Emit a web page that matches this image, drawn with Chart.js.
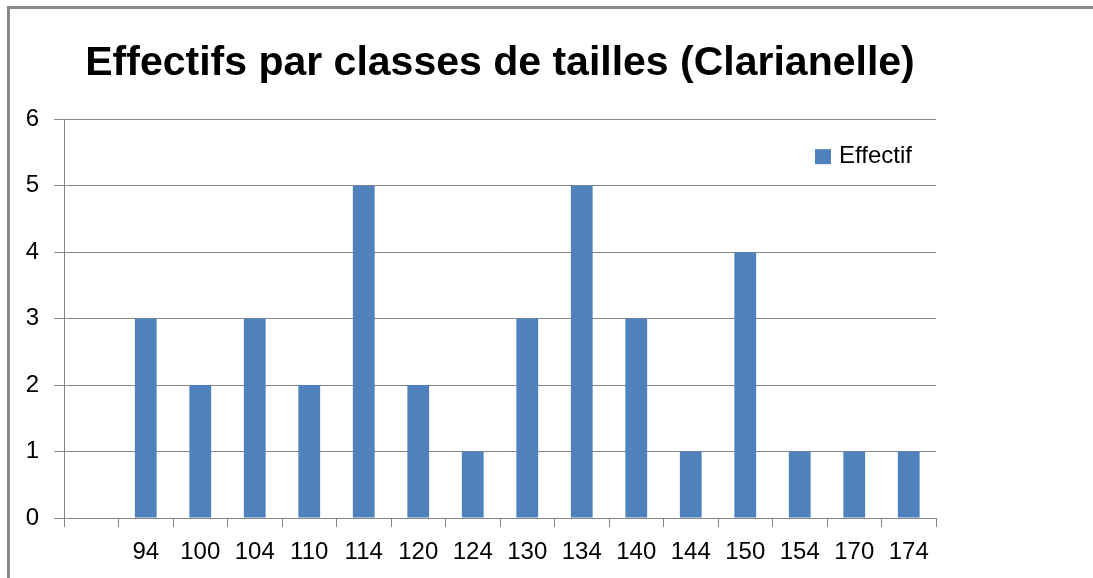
<!DOCTYPE html>
<html>
<head>
<meta charset="utf-8">
<script src="https://cdn.jsdelivr.net/npm/chart.js@4/dist/chart.umd.min.js"></script>
<style>
  html, body { margin: 0; padding: 0; background: #ffffff; }
  #wrap { width: 1093px; height: 578px; }
</style>
</head>
<body>
<div id="wrap"><canvas id="c" width="1093" height="578"></canvas></div>
<script>
const titleText = 'Effectifs par classes de tailles (Clarianelle)';
const categories = ['', '94', '100', '104', '110', '114', '120', '124', '130', '134', '140', '144', '150', '154', '170', '174'];
const effectif = [null, 3, 2, 3, 2, 5, 2, 1, 3, 5, 3, 1, 4, 1, 1, 1];
const seriesName = 'Effectif';
const yTicks = { min: 0, max: 6, step: 1 };

const BAR = '#4F81BD';
const GRID = '#868686';
const FONT = "'Liberation Sans', Arial, sans-serif";

const framePlugin = {
  id: 'frame',
  beforeDraw(chart) {
    const ctx = chart.ctx;
    ctx.save();
    ctx.fillStyle = '#ffffff';
    ctx.fillRect(0, 0, chart.width, chart.height);
    ctx.fillStyle = '#898989';
    ctx.fillRect(7, 6, chart.width - 7, 3);
    ctx.fillRect(7, 6, 3, chart.height - 6);
    ctx.restore();
  }
};

const innerLegend = {
  id: 'innerLegend',
  afterDraw(chart) {
    const ctx = chart.ctx;
    const ds = chart.data.datasets[0];
    const area = chart.chartArea;
    const x = area.right - 121;
    const y = area.top + 37;
    ctx.save();
    ctx.fillStyle = ds.backgroundColor;
    ctx.fillRect(x, y - 7, 16, 15);
    ctx.fillStyle = '#000000';
    ctx.font = '24px ' + FONT;
    ctx.textBaseline = 'middle';
    ctx.textAlign = 'left';
    ctx.fillText(ds.label, x + 24, y);
    ctx.restore();
  }
};

new Chart(document.getElementById('c'), {
  type: 'bar',
  data: {
    labels: categories,
    datasets: [{
      label: seriesName,
      data: effectif,
      backgroundColor: BAR,
      borderWidth: 0,
      barPercentage: 0.4,
      categoryPercentage: 1.0
    }]
  },
  options: {
    responsive: false,
    maintainAspectRatio: false,
    devicePixelRatio: 1,
    animation: false,
    layout: { padding: { top: 8, left: 0, right: 157, bottom: 0 } },
    plugins: {
      legend: { display: false },
      tooltip: { enabled: false },
      title: {
        display: true,
        text: titleText,
        fullSize: false,
        color: '#000000',
        font: { family: FONT, size: 41, weight: 'bold', lineHeight: 1.2 },
        padding: { top: 31, bottom: 31 }
      }
    },
    scales: {
      x: {
        offset: true,
        grid: {
          offset: true,
          drawOnChartArea: false,
          drawTicks: true,
          tickLength: 9,
          color: GRID,
          lineWidth: 1
        },
        border: { display: true, color: GRID, width: 1 },
        ticks: {
          color: '#000000',
          font: { family: FONT, size: 24 },
          padding: 11,
          maxRotation: 0,
          autoSkip: false
        },
        afterFit(scale) { scale.height = 60; }
      },
      y: {
        min: yTicks.min,
        max: yTicks.max,
        grid: {
          color: GRID,
          lineWidth: 1,
          drawTicks: true,
          tickLength: 10
        },
        border: { display: true, color: GRID, width: 1 },
        ticks: {
          stepSize: yTicks.step,
          color: '#000000',
          font: { family: FONT, size: 24 },
          padding: 15
        },
        afterFit(scale) { scale.width = 64; }
      }
    }
  },
  plugins: [framePlugin, innerLegend]
});
</script>
</body>
</html>
